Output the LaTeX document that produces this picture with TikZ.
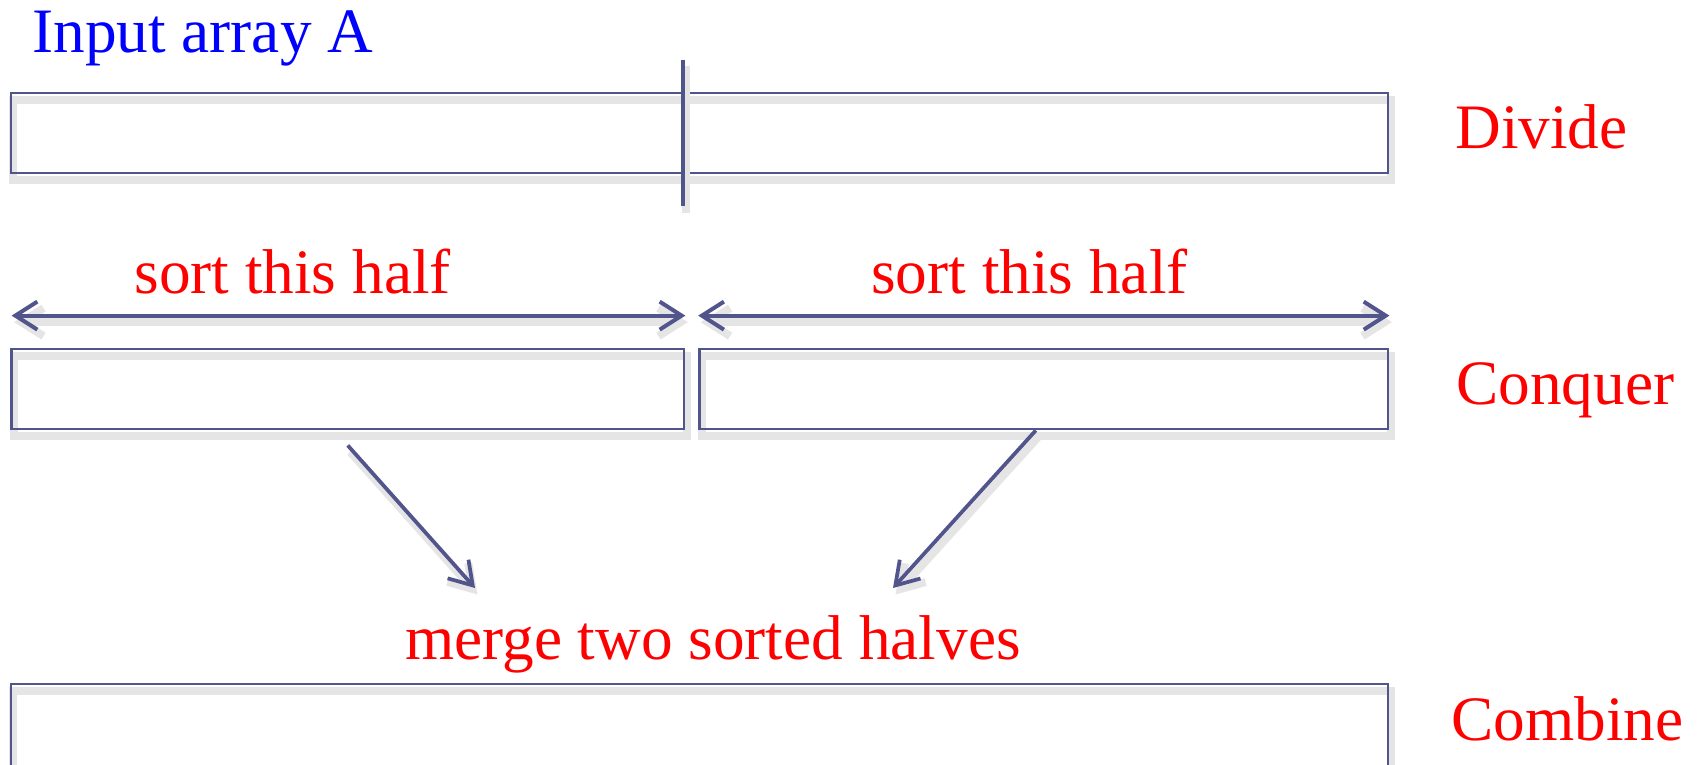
\documentclass[tikz,border=0pt]{standalone}
\usepackage{fontspec}
\setmainfont{Liberation Serif}
\usetikzlibrary{arrows.meta}
\definecolor{slate}{RGB}{82,84,140}

\begin{document}
\begin{tikzpicture}[x=0.2mm, y=-0.2mm,
	every node/.style={font=\fontsize{36}{43}\selectfont, inner sep=0pt},
	>={Straight Barb[length=4.4mm, width=5.6mm]},
	ghost/.style={preaction={draw=black!10, line width=1.6mm, transform canvas={shift={(0.5mm,-1.3mm)}}}},
	cell/.style={draw=slate, line width=0.55mm, ghost, minimum height=16mm},
	span/.style={draw=slate, line width=0.8mm, <->, ghost},
	link/.style={draw=slate, line width=0.75mm, ->, ghost},
	tag/.style={red, anchor=base west}]
	\useasboundingbox (0,0) rectangle (1700,764);
	% the array, cut in the middle
	\node[blue, anchor=base west] (input) at (32,52) {Input array A};
	\node[cell, minimum width=275.4mm] (divbox) at (699.5,133) {};
	\draw[slate, line width=0.8mm, ghost] ([xshift=-3.3mm, yshift=6.4mm]divbox.north) -- ([xshift=-3.3mm, yshift=-6.4mm]divbox.south);
	\node[tag] (divide) at (1455,148) {Divide};
	% the two halves
	\node[cell, minimum width=134.5mm] (lbox) at (347.75,389) {};
	\node[cell, minimum width=137.7mm] (rbox) at (1043.8,389) {};
	\draw[span] ([xshift=0.3mm, yshift=6.4mm]lbox.north west) -- ([yshift=6.4mm]lbox.north east);
	\draw[span] ([yshift=6.4mm]rbox.north west) -- ([yshift=6.4mm]rbox.north east);
	\node[red, anchor=base] (sortL) at (292.6,293) {sort this half};
	\node[red, anchor=base] (sortR) at (1029.5,293) {sort this half};
	\node[tag] (conquer) at (1456,404) {Conquer};
	% merging back
	\coordinate (inL) at (475,588);
	\coordinate (inR) at (893,588);
	\draw[link] ([yshift=-3mm]lbox.south) -- (inL);
	\draw[link] ([xshift=-1.6mm]rbox.south) -- (inR);
	\node[red, anchor=base] (merge) at (713,659) {merge two sorted halves};
	\node[cell, minimum width=275.4mm, minimum height=19.2mm] (allbox) at (699.5,732) {};
	\node[tag] (combine) at (1451,740) {Combine};
\end{tikzpicture}
\end{document}
